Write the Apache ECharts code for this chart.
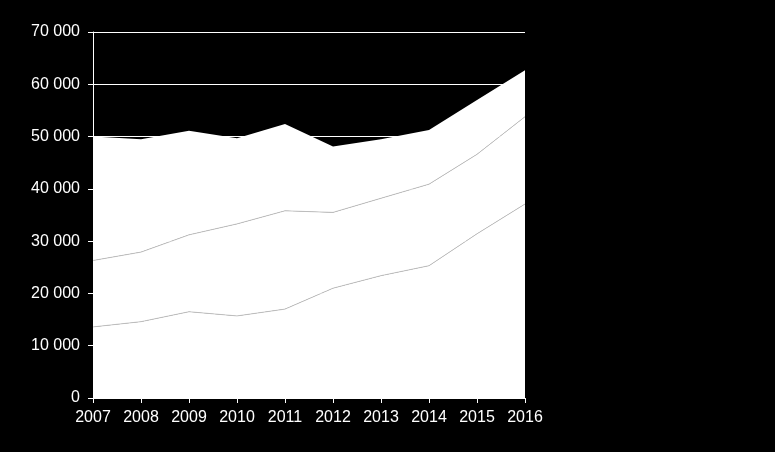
<!DOCTYPE html>
<html>
<head>
<meta charset="utf-8">
<script src="https://cdn.jsdelivr.net/npm/echarts@6/dist/echarts.min.js"></script>
<style>
html,body{margin:0;padding:0;background:#000;}
#chart{width:775px;height:452px;}
</style>
</head>
<body>
<div id="chart"></div>
<script>
var categories = ['2007','2008','2009','2010','2011','2012','2013','2014','2015','2016'];
// stacked components
var seriesA = [13600, 14600, 16500, 15700, 17000, 21000, 23400, 25300, 31400, 37100];
var seriesB = [12700, 13300, 14700, 17600, 18800, 14500, 14800, 15600, 15200, 16700];
var seriesC = [23700, 21600, 19900, 16400, 16600, 12600, 11300, 10350, 10400, 8900];
var yTicks = [0, 10000, 20000, 30000, 40000, 50000, 60000, 70000];

var chart = echarts.init(document.getElementById('chart'), null, {renderer: 'canvas'});
function fmt(v){ return String(v).replace(/\B(?=(\d{3})+(?!\d))/g, ' '); }
var font = '"Liberation Sans", Arial, sans-serif';
chart.setOption({
  backgroundColor: '#000000',
  animation: false,
  grid: {left: 93, right: 250, top: 32, bottom: 54, containLabel: false},
  xAxis: {
    type: 'category', data: categories, boundaryGap: false,
    axisLine: {show: true, lineStyle: {color: '#ffffff', width: 1}},
    axisTick: {show: true, alignWithLabel: true, length: 5, lineStyle: {color: '#ffffff'}},
    axisLabel: {color: '#ffffff', fontSize: 16, fontFamily: font, margin: 12},
    splitLine: {show: false}
  },
  yAxis: {
    type: 'value', min: yTicks[0], max: yTicks[yTicks.length-1], interval: 10000,
    axisLine: {show: true, lineStyle: {color: '#ffffff', width: 1}},
    axisTick: {show: true, length: 5, lineStyle: {color: '#ffffff'}},
    axisLabel: {color: '#ffffff', fontSize: 16, fontFamily: font, margin: 13, formatter: fmt},
    splitLine: {show: true, lineStyle: {color: '#ffffff', width: 1}}
  },
  series: [
    {type: 'line', stack: 'a', data: seriesA, symbol: 'none', smooth: false,
     lineStyle: {color: '#bdbdbd', width: 0.8}, areaStyle: {color: '#ffffff', opacity: 1}, z: 3},
    {type: 'line', stack: 'a', data: seriesB, symbol: 'none', smooth: false,
     lineStyle: {color: '#bdbdbd', width: 0.8}, areaStyle: {color: '#ffffff', opacity: 1}, z: 2},
    {type: 'line', stack: 'a', data: seriesC, symbol: 'none', smooth: false,
     lineStyle: {color: '#ffffff', width: 0}, areaStyle: {color: '#ffffff', opacity: 1}, z: 1}
  ]
});
</script>
</body>
</html>
